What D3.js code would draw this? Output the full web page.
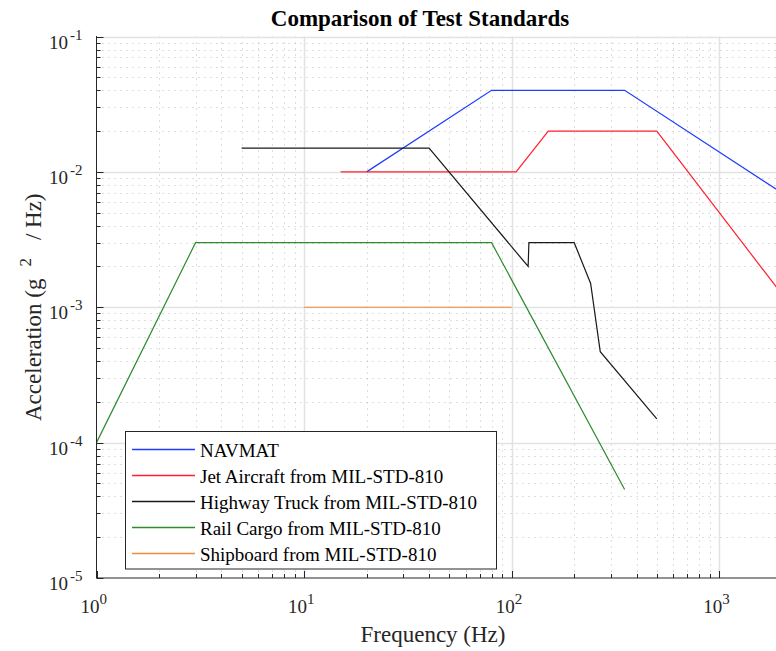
<!DOCTYPE html>
<html>
<head>
<meta charset="utf-8">
<script src="https://cdn.jsdelivr.net/npm/d3@7"></script>
<style>
  body { margin: 0; background: #fff; }
  svg { display: block; font-family: "Liberation Serif", "Times New Roman", serif; }
</style>
</head>
<body>
<svg id="chart" width="776" height="651"></svg>
<script>
// Data (frequency Hz, PSD g^2/Hz)
var navmatF = [20, 80, 350, 2000];
var navmatA = [0.01, 0.04, 0.04, 0.007];

var jetF = [15, 105, 150, 500, 2000];
var jetA = [0.01, 0.01, 0.02, 0.02, 0.00125];

var truckF = [5, 40, 120, 121, 200, 240, 267, 500];
var truckA = [0.015, 0.015, 0.002, 0.003, 0.003, 0.0015, 0.00047, 0.00015];

var railF = [1, 3, 80, 350];
var railA = [0.0001, 0.003, 0.003, 0.000045];

var shipF = [10, 100];
var shipA = [0.001, 0.001];

var seriesNames = ["NAVMAT", "Jet Aircraft from MIL-STD-810", "Highway Truck from MIL-STD-810",
                   "Rail Cargo from MIL-STD-810", "Shipboard from MIL-STD-810"];
var seriesColors = ["#1f3cff", "#ff1f2e", "#1a1a1a", "#2e8b2e", "#f08a3c"];

var xDecades = [1, 10, 100, 1000];
var yDecades = [1e-5, 1e-4, 1e-3, 1e-2, 1e-1];

var series = [
  { f: navmatF, a: navmatA },
  { f: jetF, a: jetA },
  { f: truckF, a: truckA },
  { f: railF, a: railA },
  { f: shipF, a: shipA }
];

var svg = d3.select("#chart");

// Plot box
var pLeft = 96.5, pTop = 36.5, pBottom = 578;
var x = d3.scaleLog().domain([1, 2000]).range([pLeft, 781.8]);
var y = d3.scaleLog().domain([1e-5, 1e-1]).range([pBottom, pTop]);
var pRight = x(2000);

function px(v) { return Math.round(x(v)) + 0.5; }
function py(v) { return Math.round(y(v)) + 0.5; }

// minor values
var xMinor = [], yMinor = [];
xDecades.forEach(function(d) {
  for (var k = 2; k <= 9; k++) if (d * k <= 2000) xMinor.push(d * k);
});
yDecades.slice(0, 4).forEach(function(d) {
  for (var k = 2; k <= 9; k++) yMinor.push(d * k);
});

var grid = svg.append("g");

// minor grid (dotted)
grid.selectAll(".xm").data(xMinor).enter().append("line")
  .attr("x1", px).attr("x2", px)
  .attr("y1", pTop).attr("y2", pBottom)
  .attr("stroke", "#bcbcbc").attr("stroke-width", 1)
  .attr("stroke-dasharray", "1,5");
grid.selectAll(".ym").data(yMinor).enter().append("line")
  .attr("x1", pLeft).attr("x2", pRight)
  .attr("y1", py).attr("y2", py)
  .attr("stroke", "#bcbcbc").attr("stroke-width", 1)
  .attr("stroke-dasharray", "1,5");

// major grid (solid light)
grid.selectAll(".xM").data(xDecades.slice(1)).enter().append("line")
  .attr("x1", px).attr("x2", px)
  .attr("y1", pTop).attr("y2", pBottom)
  .attr("stroke", "#e2e2e2").attr("stroke-width", 1.5);
grid.selectAll(".yM").data(yDecades.slice(1)).enter().append("line")
  .attr("x1", pLeft).attr("x2", pRight)
  .attr("y1", py).attr("y2", py)
  .attr("stroke", "#e2e2e2").attr("stroke-width", 1.5);

// Lines
var line = d3.line().x(d => x(d[0])).y(d => y(d[1]));
svg.append("g").selectAll("path")
  .data(series).enter().append("path")
  .attr("d", d => line(d.f.map((f, i) => [f, d.a[i]])))
  .attr("fill", "none")
  .attr("stroke", (d, i) => seriesColors[i])
  .attr("stroke-width", 1.2);

// Axes + ticks (MATLAB style, inside)
var axisColor = "#262626";
var ax = svg.append("g").attr("stroke", axisColor).attr("stroke-width", 1);
ax.append("line").attr("x1", pLeft).attr("x2", pRight).attr("y1", pBottom).attr("y2", pBottom);
ax.append("line").attr("x1", pLeft).attr("x2", pLeft).attr("y1", pTop - 0.5).attr("y2", pBottom);

ax.selectAll(".xt").data(xMinor).enter().append("line")
  .attr("x1", px).attr("x2", px)
  .attr("y1", pBottom).attr("y2", pBottom - 4);
ax.selectAll(".xT").data(xDecades).enter().append("line")
  .attr("x1", px).attr("x2", px)
  .attr("y1", pBottom).attr("y2", pBottom - 7);
ax.selectAll(".yt").data(yMinor).enter().append("line")
  .attr("x1", pLeft).attr("x2", pLeft + 4)
  .attr("y1", py).attr("y2", py);
ax.selectAll(".yT").data(yDecades).enter().append("line")
  .attr("x1", pLeft).attr("x2", pLeft + 7)
  .attr("y1", py).attr("y2", py);

// tick labels
var xl = svg.append("g").attr("fill", "#262626").attr("font-size", 19);
xDecades.forEach(function(d) {
  var t = xl.append("text").attr("x", x(d) - 16).attr("y", 613);
  t.append("tspan").text("10");
  t.append("tspan").attr("dy", -9).attr("font-size", 15).text(Math.round(Math.log10(d)));
});
var yl = svg.append("g").attr("fill", "#262626").attr("font-size", 19);
yDecades.forEach(function(d) {
  var t = yl.append("text").attr("x", 49).attr("y", y(d) + 12);
  t.append("tspan").text("10");
  t.append("tspan").attr("dx", 2).attr("dy", -9).attr("font-size", 15).text(Math.round(Math.log10(d)));
});

// Title and axis labels
svg.append("text").attr("x", 420).attr("y", 26).attr("text-anchor", "middle")
  .attr("font-size", 23).attr("font-weight", "bold").attr("fill", "#000")
  .text("Comparison of Test Standards");

svg.append("text").attr("x", 433).attr("y", 642).attr("text-anchor", "middle")
  .attr("font-size", 23).attr("fill", "#262626")
  .text("Frequency (Hz)");

var ylab = svg.append("text")
  .attr("transform", "translate(41,421) rotate(-90)")
  .attr("text-anchor", "start").attr("font-size", 23).attr("fill", "#262626");
ylab.append("tspan").text("Acceleration (g");
ylab.append("tspan").attr("dx", 12).attr("dy", -10).attr("font-size", 17).text("2");
ylab.append("tspan").attr("dx", 18).attr("dy", 10).text("/ Hz)");

// Legend
var lg = svg.append("g");
lg.append("rect").attr("x", 125.5).attr("y", 431.5).attr("width", 371).attr("height", 137.5)
  .attr("fill", "#fff").attr("stroke", axisColor).attr("stroke-width", 1);
seriesNames.forEach(function(name, i) {
  var cy = 449.5 + i * 26;
  lg.append("line").attr("x1", 132).attr("x2", 195).attr("y1", cy).attr("y2", cy)
    .attr("stroke", seriesColors[i]).attr("stroke-width", 1.4);
  lg.append("text").attr("x", 200).attr("y", cy + 7).attr("font-size", 19)
    .attr("fill", "#000").text(name);
});
</script>
</body>
</html>
